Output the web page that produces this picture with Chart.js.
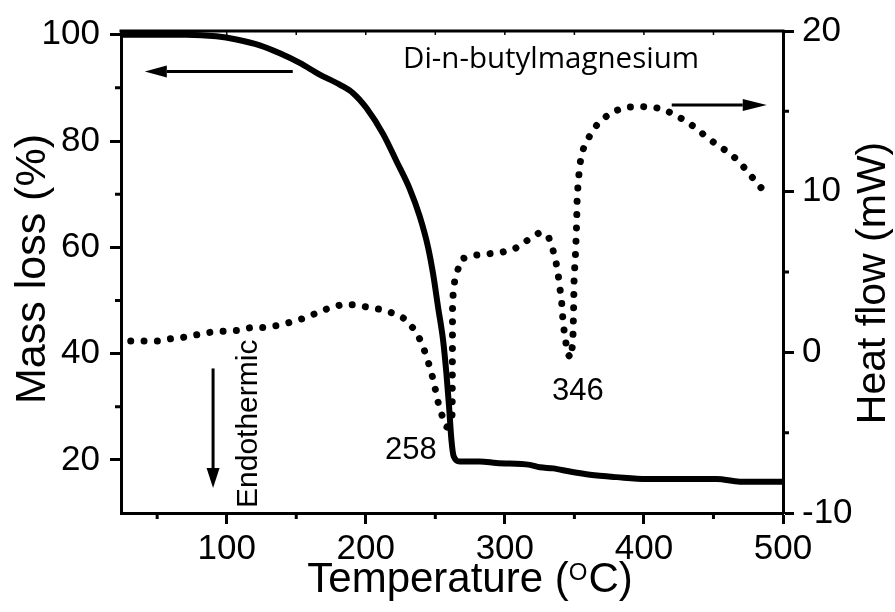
<!DOCTYPE html>
<html>
<head>
<meta charset="utf-8">
<title>TG / DSC - Di-n-butylmagnesium</title>
<script src="https://cdn.jsdelivr.net/npm/chart.js@4.4.0/dist/chart.umd.min.js"></script>
<style>
  html, body { margin: 0; padding: 0; background: #fff; }
  #wrap { width: 895px; height: 612px; }
</style>
</head>
<body>
<div id="wrap"><canvas id="chart" width="895" height="612"></canvas></div>
<script>
// TG curve (mass %, left axis)
const tgTemp = [24, 71, 92.6, 107, 123.8, 138.2, 152.5, 166.9, 181.3, 190.9, 200.5, 212.5, 222.1, 231.6, 238.8,
  244.8, 248.4, 252, 255.6, 258, 259.9, 261.6, 263.3, 267.6, 282, 293.9, 318, 325.2, 334.8, 346.8, 361.2, 380.4,
  402, 452.3, 469, 500];
const tgMass = [100, 100, 99.7, 99.1, 98.0, 96.5, 94.7, 92.5, 90.6, 89.0, 86.2, 81.3, 76.2, 71.0, 65.8,
  60.0, 55.0, 48.7, 42.5, 36.2, 30.0, 23.7, 20.6, 19.7, 19.7, 19.4, 19.05, 18.6, 18.4, 17.8, 17.2, 16.75,
  16.4, 16.4, 15.9, 15.9];

// DSC curve (heat flow mW, right axis)
const dscTemp = [31, 41, 51, 60, 70, 79, 89, 99, 108, 118, 127, 137, 146, 156, 165, 174, 184, 193, 202, 212,
  221, 229, 235, 240, 243, 246, 248.5, 250.5, 252.5, 255.5, 258.3, 261.5, 262.1, 262.3, 262.4, 263, 264, 266.4,
  268.9, 279, 288, 298, 307, 315, 324, 331, 334.5, 336.7, 338.4, 339.6, 340.8, 341.5, 342.4, 343.7, 345.1,
  347.5, 348.7, 349.1, 349.5, 349.8, 350.9, 351.6, 352.0, 352.7, 353.5, 354.7, 357.1, 361.7, 367.1, 376,
  385.6, 395, 405, 414, 422, 431, 438, 445.5, 453.5, 462, 469, 475.5, 481.5, 487.6];
const dscHeat = [0.7, 0.7, 0.7, 0.85, 0.95, 1.1, 1.26, 1.32, 1.37, 1.55, 1.55, 1.68, 1.88, 2.13, 2.46, 2.77, 3.0, 2.95, 2.8, 2.65,
  2.4, 2.05, 1.4, 0.65, -0.1, -0.9, -1.7, -2.5, -3.3, -4.1, -4.66, -4.2, -3.85, 0, 3.0, 3.9, 4.47, 5.2,
  5.82, 6.05, 6.13, 6.23, 6.44, 6.9, 7.4, 7.3, 6.4, 5.65, 4.8, 4.0, 3.2, 2.3, 1.5, 0.7, -0.1,
  -0.35, 0.5, 1.3, 3.0, 4.6, 6.3, 8.0, 9.65, 10.5, 11.3, 12.13, 12.86, 13.58, 14.27, 14.9,
  15.24, 15.3, 15.28, 15.14, 14.78, 14.37, 13.9, 13.37, 12.86, 12.38, 11.82, 11.14, 10.52, 9.9];

// ticks
const xTicks = [100, 200, 300, 400, 500];
const xMinor = [50, 150, 250, 350, 450];
const massTicks = [20, 40, 60, 80, 100];
const massMinor = [30, 50, 70, 90];
const heatTicks = [-10, 0, 10, 20];
const heatMinor = [-5, 5, 15];

const FONT = "'Liberation Sans', Arial, sans-serif";

const tgPoints = tgTemp.map((t, i) => ({ x: t, y: tgMass[i] }));
const dscPoints = dscTemp.map((t, i) => ({ x: t, y: dscHeat[i] }));

function axisGrid() {
  return { drawOnChartArea: false, drawTicks: true, tickLength: 11, tickWidth: 3, tickColor: "#000" };
}
function axisTicks(pad) {
  return { color: "#000", font: { family: FONT, size: 35 }, padding: pad, autoSkip: false, maxRotation: 0,
    callback: (v) => String(v) };
}

function arrow(ctx, x1, y1, x2, y2, headLen, headHalf) {
  const a = Math.atan2(y2 - y1, x2 - x1);
  const bx = x2 - headLen * Math.cos(a), by = y2 - headLen * Math.sin(a);
  ctx.beginPath();
  ctx.moveTo(x1, y1);
  ctx.lineTo(bx, by);
  ctx.stroke();
  ctx.beginPath();
  ctx.moveTo(x2, y2);
  ctx.lineTo(bx + headHalf * Math.sin(a), by - headHalf * Math.cos(a));
  ctx.lineTo(bx - headHalf * Math.sin(a), by + headHalf * Math.cos(a));
  ctx.closePath();
  ctx.fill();
}

const decorations = {
  id: "decorations",
  afterDraw(chart) {
    const ctx = chart.ctx;
    const { left, right, top, bottom } = chart.chartArea;
    const x = chart.scales.x, y = chart.scales.y, y2 = chart.scales.y2;
    ctx.save();
    ctx.strokeStyle = "#000";
    ctx.fillStyle = "#000";
    ctx.lineWidth = 3;
    ctx.lineCap = "butt";

    // top frame
    ctx.beginPath();
    ctx.moveTo(left - 1.5, top);
    ctx.lineTo(right + 1.5, top);
    ctx.stroke();

    // minor ticks
    ctx.beginPath();
    xMinor.forEach((v) => { const p = x.getPixelForValue(v); ctx.moveTo(p, bottom); ctx.lineTo(p, bottom + 6); });
    massMinor.forEach((v) => { const p = y.getPixelForValue(v); ctx.moveTo(left, p); ctx.lineTo(left - 6, p); });
    heatMinor.forEach((v) => { const p = y2.getPixelForValue(v); ctx.moveTo(right, p); ctx.lineTo(right + 6, p); });
    ctx.stroke();

    // small inward ticks on top frame
    ctx.lineWidth = 1.5;
    ctx.beginPath();
    xTicks.concat(xMinor).forEach((v) => { const p = x.getPixelForValue(v); ctx.moveTo(p, top); ctx.lineTo(p, top + 4); });
    ctx.stroke();

    // arrows
    ctx.lineWidth = 3;
    arrow(ctx, x.getPixelForValue(147.5), y.getPixelForValue(93.1), x.getPixelForValue(41.1), y.getPixelForValue(93.1), 22, 6);
    arrow(ctx, x.getPixelForValue(420), y2.getPixelForValue(15.4), x.getPixelForValue(488.3), y2.getPixelForValue(15.4), 24, 6);
    arrow(ctx, x.getPixelForValue(90.2), y.getPixelForValue(37.2), x.getPixelForValue(90.2), y.getPixelForValue(14.7), 20, 6.5);

    // texts
    ctx.textBaseline = "alphabetic";
    ctx.textAlign = "left";
    ctx.font = "29.5px 'Open Sans', sans-serif";
    ctx.fillText("Di-n-butylmagnesium", 403, 68);

    ctx.font = "31px " + FONT;
    ctx.fillText("258", 385, 459);
    ctx.fillText("346", 552, 400);

    ctx.save();
    ctx.translate(257, 508);
    ctx.rotate(-Math.PI / 2);
    ctx.font = "30px " + FONT;
    ctx.fillText("Endothermic", 0, 0);
    ctx.restore();

    // axis titles
    ctx.save();
    ctx.translate(45, 269);
    ctx.rotate(-Math.PI / 2);
    ctx.textAlign = "center";
    ctx.font = "43px " + FONT;
    ctx.fillText("Mass loss (%)", 0, 0);
    ctx.restore();

    ctx.save();
    ctx.translate(885, 283);
    ctx.rotate(-Math.PI / 2);
    ctx.textAlign = "center";
    ctx.font = "41px " + FONT;
    ctx.fillText("Heat flow (mW)", 0, 0);
    ctx.restore();

    // x title with superscript O
    const main = "42px " + FONT, sup = "24px " + FONT;
    ctx.font = main;
    const w1 = ctx.measureText("Temperature (").width;
    const w3 = ctx.measureText("C)").width;
    ctx.font = sup;
    const w2 = ctx.measureText("O").width + 1;
    let tx = 470 - (w1 + w2 + w3) / 2;
    ctx.font = main;
    ctx.fillText("Temperature (", tx, 592);
    ctx.font = sup;
    ctx.fillText("O", tx + w1, 580);
    ctx.font = main;
    ctx.fillText("C)", tx + w1 + w2, 592);

    ctx.restore();
  }
};

new Chart(document.getElementById("chart"), {
  type: "line",
  data: {
    datasets: [
      {
        label: "Mass loss",
        data: tgPoints,
        yAxisID: "y",
        borderColor: "#000",
        borderWidth: 6,
        pointRadius: 0,
        cubicInterpolationMode: "monotone",
        borderJoinStyle: "round",
        borderCapStyle: "round",
        fill: false
      },
      {
        label: "Heat flow",
        data: dscPoints,
        yAxisID: "y2",
        borderColor: "#000",
        borderWidth: 7,
        borderDash: [0.01, 13.3],
        borderCapStyle: "round",
        pointRadius: 0,
        tension: 0,
        fill: false
      }
    ]
  },
  options: {
    responsive: false,
    animation: false,
    devicePixelRatio: 1,
    layout: { padding: { top: 29, left: 0, right: 0, bottom: 0 } },
    plugins: { legend: { display: false }, tooltip: { enabled: false } },
    scales: {
      x: {
        type: "linear",
        min: 24,
        max: 500,
        afterBuildTicks: (s) => { s.ticks = xTicks.map((v) => ({ value: v })); },
        afterFit: (s) => { s.height = 99; },
        grid: axisGrid(),
        border: { display: true, width: 3, color: "#000" },
        ticks: axisTicks(4)
      },
      y: {
        position: "left",
        min: 10,
        max: 100.7,
        afterBuildTicks: (s) => { s.ticks = massTicks.map((v) => ({ value: v })); },
        afterFit: (s) => { s.width = 121; },
        grid: axisGrid(),
        border: { display: true, width: 3, color: "#000" },
        ticks: axisTicks(10)
      },
      y2: {
        position: "right",
        min: -10,
        max: 20,
        afterBuildTicks: (s) => { s.ticks = heatTicks.map((v) => ({ value: v })); },
        afterFit: (s) => { s.width = 112; },
        grid: axisGrid(),
        border: { display: true, width: 3, color: "#000" },
        ticks: axisTicks(8)
      }
    }
  },
  plugins: [decorations]
});
</script>
</body>
</html>
